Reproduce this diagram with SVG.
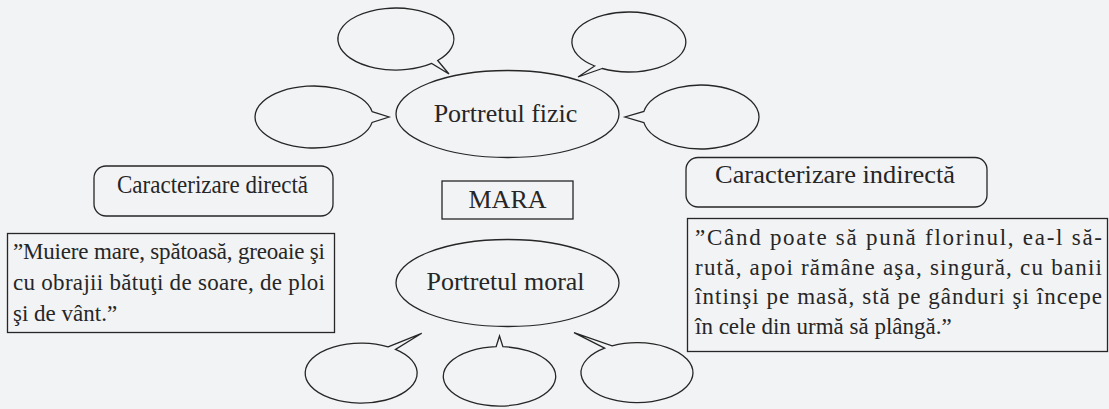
<svg xmlns="http://www.w3.org/2000/svg" width="1109" height="409" viewBox="0 0 1109 409">
<style>
.bg{fill:#f2f3f5}
.shape{fill:none;stroke:#262626;stroke-width:1.3}
.t{font-family:'Liberation Serif','Times New Roman',serif;fill:#262626}
.big{font-size:26px}
.cap{font-size:25px}
.q{font-size:23px}
</style>
<rect class="bg" x="0" y="0" width="1109" height="409"/>
<g id="connectors">
</g>
<g id="bubble-tl"><path class="shape" d="M437.7,60.5 L449,74 L431.7,63.4 A58,31 0 1 1 437.7,60.5 Z"/></g>
<g id="bubble-tr"><path class="shape" d="M602.2,68.5 L578,77 L594.7,66 A57,30 0 1 1 602.2,68.5 Z"/></g>
<g id="bubble-l"><path class="shape" d="M372.1,111.6 L389,117 L372.1,122.4 A59,31 0 1 1 372.1,111.6 Z"/></g>
<g id="bubble-r"><path class="shape" d="M643.9,122.6 L625,117 L643.9,111.4 A58,32 0 1 1 643.9,122.6 Z"/></g>
<g id="bubble-bl"><path class="shape" d="M388.1,346.8 L421.7,333.3 L395.5,349.4 A56,30 0 1 1 388.1,346.8 Z"/></g>
<g id="bubble-bm"><path class="shape" d="M496.1,346.7 L499.5,336 L502.9,346.7 A56.2,29.7 0 1 1 496.1,346.7 Z"/></g>
<g id="bubble-br"><path class="shape" d="M604.6,348.2 L574,332.7 L612.1,345.8 A56,30 0 1 1 604.6,348.2 Z"/></g>
<g id="portret-fizic">
<ellipse class="shape" cx="507.5" cy="114" rx="111.5" ry="43.5"/>
<text class="t big" x="505.5" y="121.7" text-anchor="middle">Portretul fizic</text>
</g>
<g id="portret-moral">
<ellipse class="shape" cx="507.5" cy="283" rx="111.5" ry="43.5"/>
<text class="t big" x="505.5" y="290" text-anchor="middle">Portretul moral</text>
</g>
<g id="mara">
<rect class="shape" x="442" y="181" width="131" height="38"/>
<text class="t big" x="507.5" y="208" text-anchor="middle">MARA</text>
</g>
<g id="car-directa">
<rect class="shape" x="94" y="166" width="239" height="50" rx="12"/>
<text class="t cap" x="117" y="193" textLength="191" lengthAdjust="spacingAndGlyphs">Caracterizare directă</text>
</g>
<g id="car-indirecta">
<rect class="shape" x="686" y="157.5" width="301" height="49.5" rx="12"/>
<text class="t cap" x="715" y="182.5" textLength="240" lengthAdjust="spacingAndGlyphs">Caracterizare indirectă</text>
</g>
<g id="citat-direct">
<rect class="shape" x="7.5" y="233.5" width="327" height="99"/>
<text class="t q" x="13" y="259" textLength="312" lengthAdjust="spacing">”Muiere mare, spătoasă, greoaie şi</text>
<text class="t q" x="13" y="290" textLength="312" lengthAdjust="spacing">cu obrajii bătuţi de soare, de ploi</text>
<text class="t q" x="13" y="321">şi de vânt.”</text>
</g>
<g id="citat-indirect">
<rect class="shape" x="687.5" y="218.5" width="420" height="133"/>
<text class="t q" x="695" y="245" textLength="407" lengthAdjust="spacing">”Când poate să pună florinul, ea-l să-</text>
<text class="t q" x="695" y="274.5" textLength="407" lengthAdjust="spacing">rută, apoi rămâne aşa, singură, cu banii</text>
<text class="t q" x="695" y="304" textLength="407" lengthAdjust="spacing">întinşi pe masă, stă pe gânduri şi începe</text>
<text class="t q" x="695" y="333.5">în cele din urmă să plângă.”</text>
</g>
</svg>
